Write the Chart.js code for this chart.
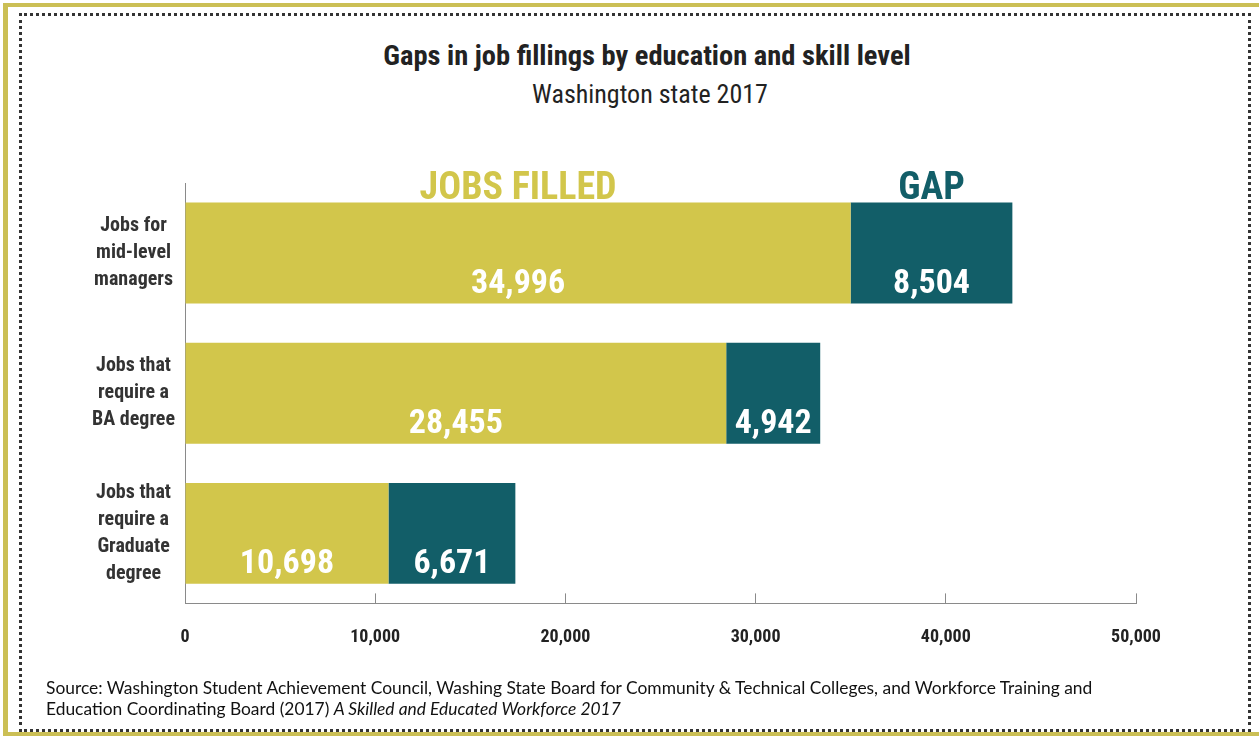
<!DOCTYPE html>
<html>
<head>
<meta charset="utf-8">
<script src="https://cdn.jsdelivr.net/npm/chart.js@4.4.0/dist/chart.umd.min.js"></script>
<style>
  html, body { margin: 0; padding: 0; background: #fff; }
  #page { position: relative; width: 1259px; height: 736px; overflow: hidden; background: #fff; }
  #frame {
    position: absolute; left: 3px; top: 3px; width: 1256px; height: 733px;
    box-sizing: border-box;
    border-left: 5px solid #cbbf55; border-top: 4px solid #cbbf55; border-bottom: 4px solid #cbbf55;
  }
  #dots {
    position: absolute; left: 19px; top: 13px; width: 1232px; height: 719px;
    box-sizing: border-box; border: 3px dotted #333;
  }
  .head {
    position: absolute; text-align: center; color: #222; white-space: nowrap;
    font-family: 'Roboto Condensed', 'Liberation Sans Narrow', Roboto, sans-serif;
  }
  #title { left: 35px; width: 1224px; top: 39px; font-size: 28.5px; line-height: 34px; font-weight: bold; }
  #subtitle { left: 41px; width: 1218px; top: 79px; font-size: 26px; line-height: 31px; }
  #chartBox { position: absolute; left: 0; top: 0; width: 1259px; height: 736px; }
  #source {
    position: absolute; left: 46px; top: 677px; width: 1190px;
    font-family: Lato, 'Liberation Sans', sans-serif; font-size: 17.4px; line-height: 21px; color: #111;
  }
</style>
</head>
<body>
<div id="page">
  <div id="frame"></div>
  <div id="dots"></div>
  <div class="head" id="title">Gaps in job fillings by education and skill level</div>
  <div class="head" id="subtitle">Washington state 2017</div>
  <div id="chartBox"><canvas id="chart" width="1259" height="736"></canvas></div>
  <div id="source">Source: Washington Student Achievement Council, Washing State Board for Community &amp; Technical Colleges, and Workforce Training and<br>Education Coordinating Board (2017) <i>A Skilled and Educated Workforce 2017</i></div>
</div>
<script>
const categories = [
  ['Jobs for', 'mid-level', 'managers'],
  ['Jobs that', 'require a', 'BA degree'],
  ['Jobs that', 'require a', 'Graduate', 'degree']
];
const seriesNames = ['JOBS FILLED', 'GAP'];
const jobsFilled = [34996, 28455, 10698];
const jobsGap = [8504, 4942, 6671];
const xTicks = [0, 10000, 20000, 30000, 40000, 50000];

const OLIVE = '#d2c64b';
const TEAL = '#125e68';
const FONT = "'Roboto Condensed', 'Liberation Sans Narrow', Roboto, sans-serif";

Chart.defaults.font.family = FONT;

// value inside each segment + series name above the top bar
const barText = {
  id: 'barText',
  afterDatasetsDraw(chart) {
    const ctx = chart.ctx;
    ctx.save();
    ctx.textAlign = 'center';
    ctx.textBaseline = 'alphabetic';
    chart.data.datasets.forEach((ds, di) => {
      const meta = chart.getDatasetMeta(di);
      meta.data.forEach((bar, i) => {
        const mid = (bar.x + bar.base) / 2;
        ctx.fillStyle = '#fff';
        ctx.font = 'bold 34px ' + FONT;
        ctx.fillText(ds.data[i].toLocaleString('en-US'), mid, bar.y + bar.height / 2 - 11);
      });
      const top = meta.data[0];
      ctx.fillStyle = ds.backgroundColor;
      ctx.font = 'bold 38px ' + FONT;
      ctx.fillText(ds.label, (top.x + top.base) / 2, top.y - top.height / 2 - 4);
    });
    ctx.restore();
  }
};

new Chart(document.getElementById('chart'), {
  type: 'bar',
  data: {
    labels: categories,
    datasets: [
      { label: seriesNames[0], data: jobsFilled, backgroundColor: OLIVE },
      { label: seriesNames[1], data: jobsGap, backgroundColor: TEAL }
    ]
  },
  options: {
    indexAxis: 'y',
    responsive: false,
    animation: false,
    categoryPercentage: 0.72,
    barPercentage: 1,
    layout: { padding: { left: 0, right: 123, top: 183, bottom: 55 } },
    plugins: {
      legend: { display: false },
      tooltip: { enabled: false }
    },
    scales: {
      x: {
        stacked: true,
        min: 0,
        max: 50000,
        afterBuildTicks(scale) { scale.ticks = xTicks.map(v => ({ value: v })); },
        grid: { drawOnChartArea: false, tickLength: -10, color: '#8a8a8a' },
        border: { color: '#8a8a8a' },
        ticks: {
          color: '#222',
          padding: 33,
          font: { size: 18, weight: 'bold' },
          callback: v => v.toLocaleString('en-US')
        }
      },
      y: {
        stacked: true,
        afterFit(scale) { scale.width = 185; },
        grid: { display: false },
        border: { color: '#8a8a8a' },
        ticks: {
          color: '#333',
          crossAlign: 'center',
          padding: 2,
          font: { size: 20, weight: 'bold', lineHeight: 1.35 }
        }
      }
    }
  },
  plugins: [barText]
});
</script>
</body>
</html>
